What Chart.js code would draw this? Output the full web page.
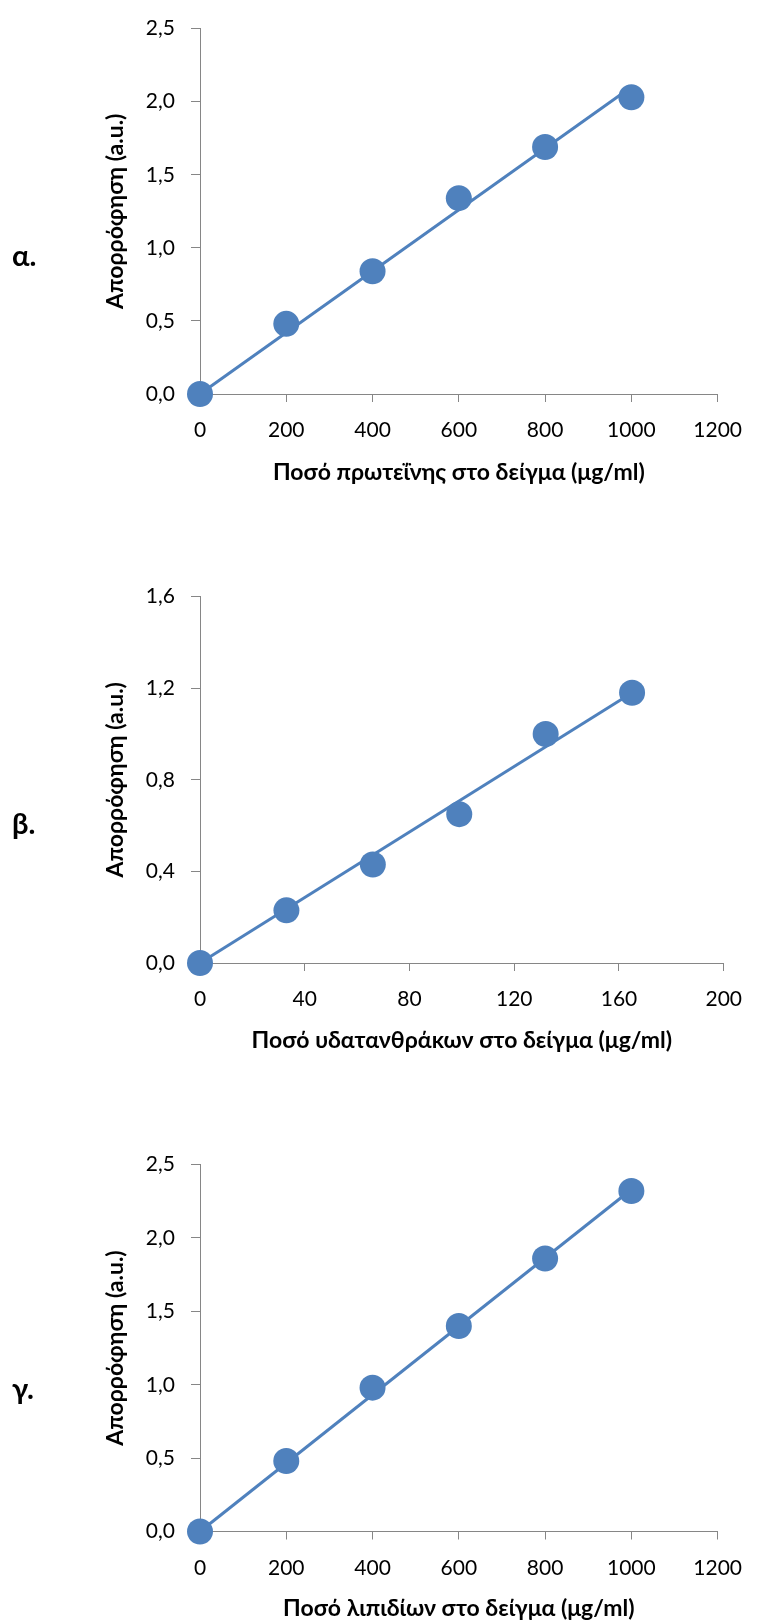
<!DOCTYPE html>
<html>
<head>
<meta charset="utf-8">
<script src="https://cdn.jsdelivr.net/npm/chart.js@4.4.0/dist/chart.umd.min.js"></script>
<style>
  body { margin: 0; background: #fff; width: 758px; height: 1622px; position: relative; overflow: hidden; }
  .panel { position: absolute; left: 0; }
  .tag { position: absolute; left: 12px; font: bold 29px Lato, sans-serif; line-height: 29px; color: #000; }
</style>
</head>
<body>
<div class="panel" style="top:0px"><canvas id="chartA" width="758" height="500"></canvas></div>
<div class="panel" style="top:568px"><canvas id="chartB" width="758" height="500"></canvas></div>
<div class="panel" style="top:1136px"><canvas id="chartC" width="758" height="500"></canvas></div>
<div class="tag" style="top:240px">α.</div>
<div class="tag" style="top:808px">β.</div>
<div class="tag" style="top:1373px">γ.</div>
<script>
// Δεδομένα (τιμές διαβασμένες από το γράφημα)
const protX = [0, 200, 400, 600, 800, 1000];
const protY = [0, 0.48, 0.84, 1.34, 1.69, 2.03];
const protTrendX = [0, 1000];
const protTrendY = [0, 2.10];

const carbX = [0, 33, 66, 99, 132, 165];
const carbY = [0, 0.23, 0.43, 0.65, 1.00, 1.18];
const carbTrendX = [0, 165];
const carbTrendY = [0, 1.18];

const lipX = [0, 200, 400, 600, 800, 1000];
const lipY = [0, 0.48, 0.98, 1.40, 1.86, 2.32];
const lipTrendX = [0, 1000];
const lipTrendY = [0, 2.33];

const yTitle = 'Απορρόφηση (a.u.)';
const protTitle = 'Ποσό πρωτεΐνης στο δείγμα (μg/ml)';
const carbTitle = 'Ποσό υδατανθράκων στο δείγμα (μg/ml)';
const lipTitle = 'Ποσό λιπιδίων στο δείγμα (μg/ml)';

const blue = '#4F81BD';
const axisGray = '#868686';
const W = 758, H = 500;

Chart.defaults.font.family = 'Lato, sans-serif';
Chart.defaults.color = '#000';

// Δημιουργία ενός γραφήματος διασποράς με γραμμή τάσης
function makeChart(id, xs, ys, tx, ty, xMax, xStep, yMax, yStep, xTitle, area) {
    const pts = xs.map((x, i) => ({ x: x, y: ys[i] }));
    const trend = tx.map((x, i) => ({ x: x, y: ty[i] }));

    return new Chart(document.getElementById(id), {
        type: 'scatter',
        data: {
            datasets: [
                {
                    data: pts,
                    backgroundColor: blue,
                    borderColor: blue,
                    borderWidth: 0,
                    pointRadius: 13,
                    pointHoverRadius: 13,
                    clip: false
                },
                {
                    type: 'line',
                    data: trend,
                    borderColor: blue,
                    borderWidth: 3,
                    pointRadius: 0,
                    fill: false,
                    clip: false
                }
            ]
        },
        options: {
            responsive: false,
            animation: false,
            layout: { padding: { left: 100, top: area.top, right: W - area.right, bottom: 0 } },
            plugins: { legend: { display: false }, tooltip: { enabled: false } },
            scales: {
                x: {
                    type: 'linear',
                    min: 0,
                    max: xMax,
                    ticks: { stepSize: xStep, padding: 16, font: { size: 21 }, callback: v => String(v) },
                    grid: { drawOnChartArea: false, tickLength: 8, color: axisGray },
                    border: { color: axisGray, width: 1 },
                    title: { display: true, text: xTitle, font: { size: 23, weight: 'bold' }, padding: { top: 0, bottom: 14 } },
                    afterFit: s => { s.height = H - area.bottom; }
                },
                y: {
                    type: 'linear',
                    min: 0,
                    max: yMax,
                    ticks: {
                        stepSize: yStep,
                        padding: 16,
                        font: { size: 21 },
                        callback: v => v.toFixed(1).replace('.', ',')
                    },
                    grid: { drawOnChartArea: false, tickLength: 9, color: axisGray },
                    border: { color: axisGray, width: 1 },
                    title: { display: true, text: yTitle, font: { size: 23, weight: 'bold' }, padding: { top: 2, bottom: 0 } },
                    afterFit: s => { s.width = area.left - 100; }
                }
            }
        }
    });
}

makeChart('chartA', protX, protY, protTrendX, protTrendY, 1200, 200, 2.5, 0.5, protTitle,
    { left: 200, right: 729, top: 21, bottom: 394 });
makeChart('chartB', carbX, carbY, carbTrendX, carbTrendY, 200, 40, 1.6, 0.4, carbTitle,
    { left: 200, right: 737, top: 21, bottom: 395 });
makeChart('chartC', lipX, lipY, lipTrendX, lipTrendY, 1200, 200, 2.5, 0.5, lipTitle,
    { left: 200, right: 729, top: 21, bottom: 395.5 });
</script>
</body>
</html>
